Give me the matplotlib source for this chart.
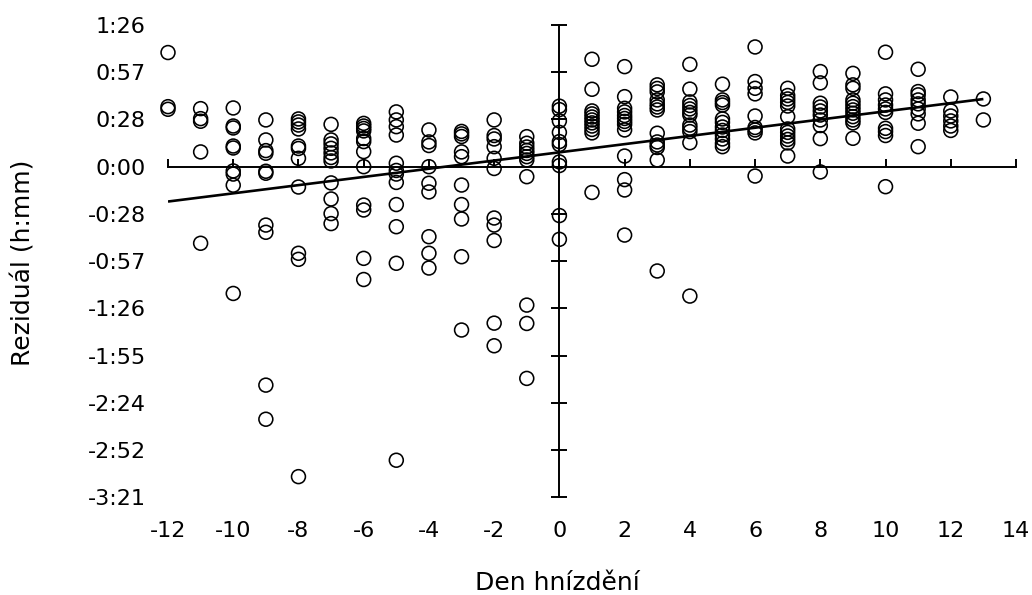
import matplotlib
matplotlib.use("Agg")
import matplotlib.pyplot as plt
import numpy as np

plt.rcParams['axes.unicode_minus'] = False

# Nesting day (x) and residuals in minutes for each day
days = [-12, -11, -10, -9, -8, -7, -6, -5, -4, -3, -2, -1, 0,
        1, 2, 3, 4, 5, 6, 7, 8, 9, 10, 11, 12, 13]
residuals_min = [
    [69.6, 36.6, 35.0],
    [35.4, 29.3, 27.7, 9.0, -46.7],
    [35.8, 24.8, 23.6, 12.6, 11.4, -2.6, -4.5, -11.3, -77.3],
    [28.5, 16.3, 9.8, 8.2, -2.8, -4.0, -35.6, -40.0, -133.2, -154.0],
    [29.1, 27.3, 25.4, 23.0, 12.6, 11.1, 5.1, -12.4, -52.8, -56.5, -189.0],
    [25.8, 16.3, 13.9, 11.2, 8.4, 5.6, 3.5, -9.9, -19.7, -28.6, -34.7],
    [26.4, 24.8, 23.3, 21.8, 17.2, 15.3, 9.2, 0.0, -23.4, -26.4, -55.9, -68.8],
    [33.4, 28.5, 24.4, 19.3, 2.1, -2.3, -4.5, -9.6, -23.1, -36.6, -58.9, -179.0],
    [22.4, 15.1, 12.9, 0.0, -10.1, -15.4, -42.7, -52.8, -61.8],
    [21.5, 20.0, 18.4, 9.0, 6.1, -11.2, -23.1, -31.9, -54.9, -99.6],
    [28.5, 19.0, 16.9, 12.2, 5.1, -1.1, -31.3, -35.6, -45.0, -95.4, -109.2],
    [18.3, 14.3, 12.0, 9.9, 8.1, 6.1, 4.1, -6.1, -84.4, -95.6, -129.1],
    [36.9, 34.8, 27.9, 20.9, 15.3, 13.5, 2.9, 0.7, -29.8, -44.3],
    [65.5, 47.2, 34.0, 32.2, 30.3, 28.5, 26.7, 24.8, 22.7, 20.6, -15.7],
    [61.0, 42.7, 35.6, 33.4, 31.2, 29.4, 27.6, 25.8, 22.4, 6.5, -7.9, -14.2, -41.7],
    [49.9, 47.7, 45.6, 40.7, 38.3, 36.4, 34.6, 20.4, 15.1, 13.2, 11.7, 4.1, -63.6],
    [62.4, 47.3, 39.5, 37.3, 35.2, 33.1, 31.5, 25.4, 23.4, 21.4, 14.6, -78.9],
    [50.3, 40.7, 39.1, 37.6, 29.1, 27.0, 24.2, 22.1, 19.3, 16.9, 14.2, 12.2],
    [73.0, 51.9, 47.8, 44.4, 30.9, 23.9, 22.4, 20.6, -5.7],
    [47.8, 43.4, 41.3, 39.2, 37.0, 30.5, 23.0, 20.9, 18.7, 16.6, 14.5, 6.5],
    [58.0, 51.1, 38.7, 36.4, 34.0, 31.5, 28.5, 25.1, 17.1, -3.2],
    [56.9, 49.9, 47.8, 40.7, 38.7, 36.6, 34.6, 32.6, 30.5, 28.5, 26.7, 17.3],
    [69.8, 44.4, 40.7, 37.6, 35.2, 33.1, 23.4, 21.4, 19.0, -12.2],
    [59.4, 45.8, 43.8, 40.7, 38.3, 35.2, 32.2, 26.5, 12.2],
    [42.5, 34.0, 30.9, 27.9, 24.8, 22.1],
    [41.3, 28.5],
]

# Linear trend (minutes): value = slope * day + intercept
trend_slope = 2.50
trend_intercept = 8.75
trend_days = [-12, 13]

x_ticks = [-12, -10, -8, -6, -4, -2, 0, 2, 4, 6, 8, 10, 12, 14]
x_tick_labels = ["-12", "-10", "-8", "-6", "-4", "-2", "0", "2", "4", "6",
                 "8", "10", "12", "14"]
y_ticks = [-201.6, -172.8, -144.0, -115.2, -86.4, -57.6, -28.8, 0.0, 28.8,
           57.6, 86.4]
y_tick_labels = ["-3:21", "-2:52", "-2:24", "-1:55", "-1:26", "-0:57",
                 "-0:28", "0:00", "0:28", "0:57", "1:26"]

xs = []
ys = []
for d, vals in zip(days, residuals_min):
    xs.extend([d] * len(vals))
    ys.extend(vals)

fig = plt.figure(figsize=(10.32, 5.95), dpi=100)
rect = [0.1628, 0.1642, 0.8217, 0.7938]
ax = fig.add_axes(rect)
ax.set_xlim(-12, 14)
ax.set_ylim(-201.6, 86.4)

ax.spines['left'].set_position(('data', 0))
ax.spines['bottom'].set_position(('data', 0))
ax.spines['top'].set_visible(False)
ax.spines['right'].set_visible(False)
for s in ('left', 'bottom'):
    ax.spines[s].set_linewidth(1.4)
    ax.spines[s].set_color('black')

ax.set_xticks(x_ticks)
ax.set_yticks(y_ticks)
ax.tick_params(axis='y', direction='inout', length=12, width=1.4,
               labelleft=False)
ax.tick_params(axis='x', direction='in', length=6, width=1.4,
               labelbottom=False)

ax.scatter(xs, ys, s=100, facecolors='none', edgecolors='black',
           linewidths=1.15, zorder=3, clip_on=False)
td = np.array(trend_days, dtype=float)
ax.plot(td, trend_slope * td + trend_intercept, color='black', lw=1.9,
        zorder=4, solid_capstyle='butt')

# overlay axes carrying the tick labels at the plot edges
ax2 = fig.add_axes(rect, frameon=False)
ax2.patch.set_visible(False)
ax2.set_xlim(-12, 14)
ax2.set_ylim(-201.6, 86.4)
ax2.set_xticks(x_ticks)
ax2.set_xticklabels(x_tick_labels)
ax2.set_yticks(y_ticks)
ax2.set_yticklabels(y_tick_labels)
ax2.tick_params(axis='both', length=0, labelsize=16, colors='black')
ax2.tick_params(axis='y', pad=16)
ax2.tick_params(axis='x', pad=17)

ax2.set_xlabel("Den hnízdění", fontsize=18)
ax2.xaxis.set_label_coords(0.459, -0.182)
ax2.xaxis.label.set_va('center')
ax2.set_ylabel("Reziduál (h:mm)", fontsize=18)
ax2.yaxis.set_label_coords(-0.171, 0.496)
ax2.yaxis.label.set_va('center')

fig.savefig('out.png', dpi=100)
